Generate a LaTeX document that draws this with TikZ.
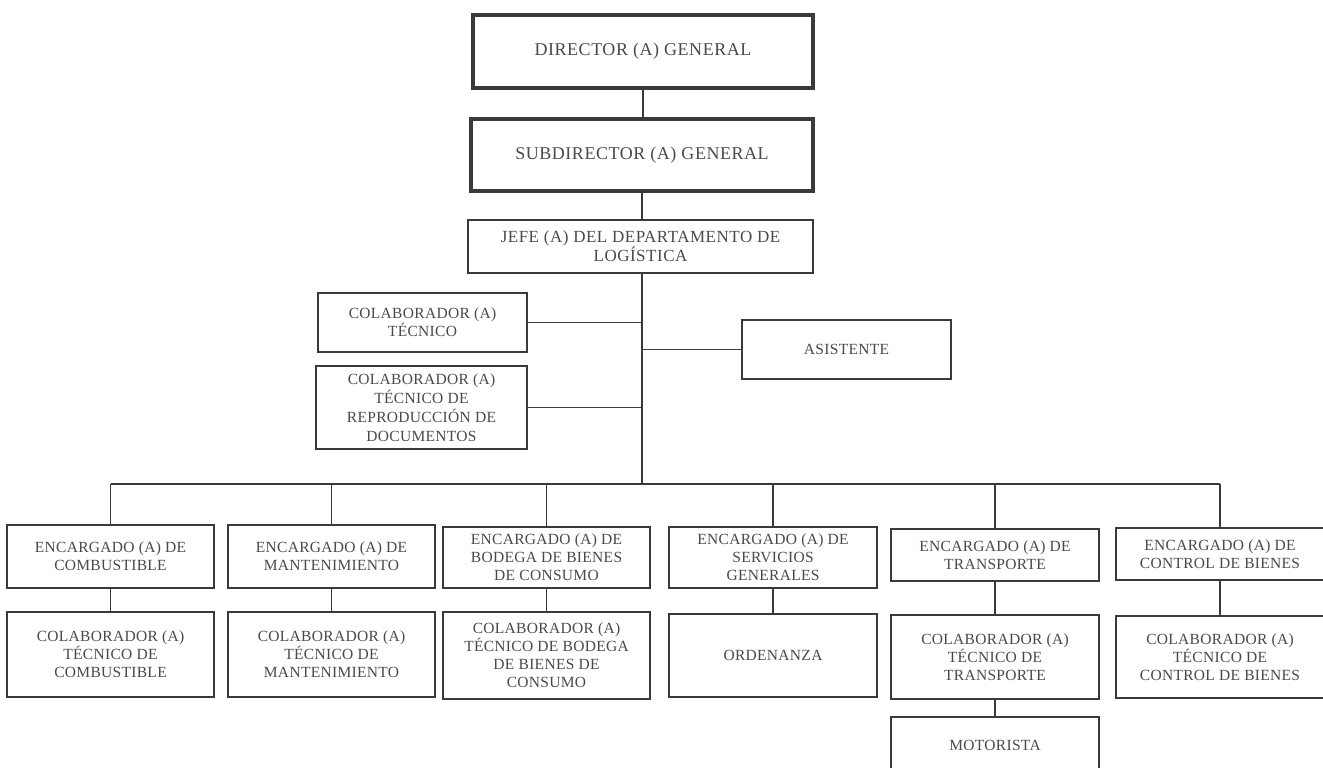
\documentclass[tikz,border=0pt]{standalone}
\usepackage{fontspec}
\setmainfont{Liberation Serif}
\newfontfamily\boxfont[LetterSpace=2]{Liberation Serif}
\newfontfamily\bigfont[LetterSpace=3]{Liberation Serif}
\definecolor{ink}{HTML}{3A3A3A}
\definecolor{txt}{HTML}{4A4A4A}
\begin{document}
\begin{tikzpicture}[x=1pt,y=-1pt,
  box/.style={draw=ink, line width=1.2pt, fill=white, align=center, text=txt,
    font=\boxfont\fontsize{15.5}{18}\selectfont, inner sep=1pt},
  bigbox/.style={box, line width=4.5pt, font=\bigfont\fontsize{18}{20}\selectfont},
  link/.style={draw=ink, line width=1.2pt}]
\useasboundingbox (0,0) rectangle (1323,768);
% top chain
\node[bigbox, minimum width=340, minimum height=73] (dir) at (643,51.5) {DIRECTOR (A) GENERAL};
\node[bigbox, minimum width=342, minimum height=72] (sub) at (642,155) {SUBDIRECTOR (A) GENERAL};
\node[box, minimum width=345, minimum height=53, font=\bigfont\fontsize{17}{19}\selectfont] (jefe) at (640.5,246.5) {JEFE (A) DEL DEPARTAMENTO DE\\LOGÍSTICA};
\node[box, minimum width=209, minimum height=59] (ct) at (422.5,322.5) {COLABORADOR (A)\\TÉCNICO};
\node[box, minimum width=209, minimum height=59] (asis) at (846.5,349.5) {ASISTENTE};
\node[box, minimum width=211, minimum height=83, font=\boxfont\fontsize{15.5}{19}\selectfont] (crd) at (421.5,407.5) {COLABORADOR (A)\\TÉCNICO DE\\REPRODUCCIÓN DE\\DOCUMENTOS};
\coordinate (bus) at (642,484);
% row 1
\node[box, minimum width=207, minimum height=63] (e1) at (110.5,556.5) {ENCARGADO (A) DE\\COMBUSTIBLE};
\node[box, minimum width=207, minimum height=63] (e2) at (331.5,556.5) {ENCARGADO (A) DE\\MANTENIMIENTO};
\node[box, minimum width=207, minimum height=61] (e3) at (546.5,557.5) {ENCARGADO (A) DE\\BODEGA DE BIENES\\DE CONSUMO};
\node[box, minimum width=208, minimum height=61] (e4) at (773,557.5) {ENCARGADO (A) DE\\SERVICIOS\\GENERALES};
\node[box, minimum width=208, minimum height=52] (e5) at (995,555) {ENCARGADO (A) DE\\TRANSPORTE};
\node[box, minimum width=208, minimum height=52] (e6) at (1220,554) {ENCARGADO (A) DE\\CONTROL DE BIENES};
% row 2
\node[box, minimum width=207, minimum height=85] (c1) at (110.5,654.5) {COLABORADOR (A)\\TÉCNICO DE\\COMBUSTIBLE};
\node[box, minimum width=207, minimum height=85] (c2) at (331.5,654.5) {COLABORADOR (A)\\TÉCNICO DE\\MANTENIMIENTO};
\node[box, minimum width=207, minimum height=87] (c3) at (546.5,655.5) {COLABORADOR (A)\\TÉCNICO DE BODEGA\\DE BIENES DE\\CONSUMO};
\node[box, minimum width=208, minimum height=83] (c4) at (773,655.5) {ORDENANZA};
\node[box, minimum width=208, minimum height=84] (c5) at (995,657) {COLABORADOR (A)\\TÉCNICO DE\\TRANSPORTE};
\node[box, minimum width=208, minimum height=82] (c6) at (1220,657) {COLABORADOR (A)\\TÉCNICO DE\\CONTROL DE BIENES};
\node[box, minimum width=208, minimum height=56] (mot) at (995,745) {MOTORISTA};
% connectors
\path[link] (dir.south) -- (sub.north -| dir.south);
\path[link] (sub.south) -- (jefe.north -| sub.south);
\path[link] (jefe.south -| bus) -- (bus);
\path[link] (ct.east) -- (ct.east -| bus);
\path[link] (crd.east) -- (crd.east -| bus);
\path[link] (asis.west) -- (asis.west -| bus);
\path[link] (e1.north |- bus) -- (e6.north |- bus);
\foreach \i in {1,...,6}{
  \path[link] (e\i.north) -- (e\i.north |- bus);
  \path[link] (e\i.south) -- (c\i.north);
}
\path[link] (c5.south) -- (mot.north);
\end{tikzpicture}
\end{document}
